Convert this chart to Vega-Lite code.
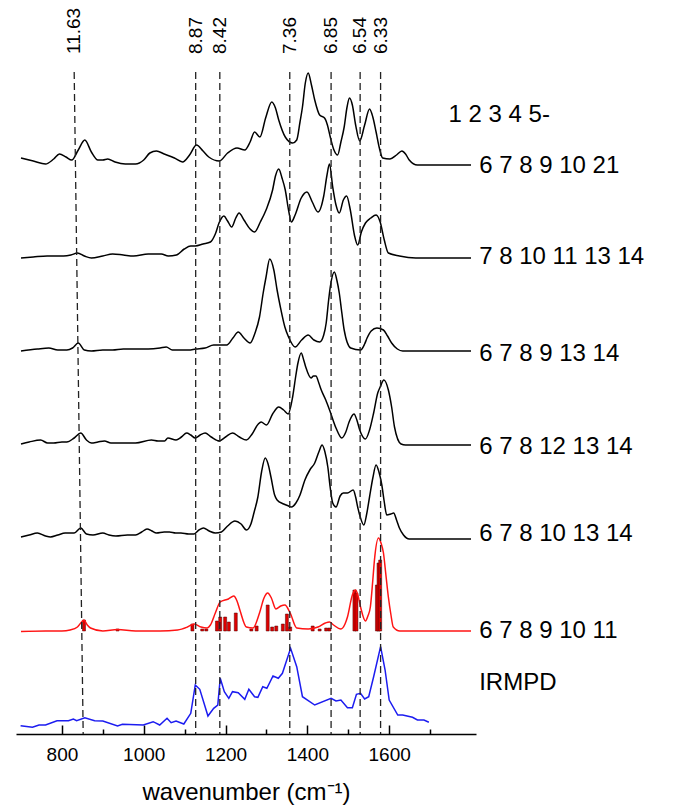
{
  "$schema": "https://vega.github.io/schema/vega-lite/v6.json",
  "width": 460,
  "height": 734,
  "autosize": "none",
  "padding": {"left": 16, "top": 0, "right": 205, "bottom": 76},
  "background": "white",
  "config": {"view": {"stroke": null}, "font": "Liberation Sans"},
  "datasets": {
    "spectra": [
      {"s":"1","wn":700,"v":576},{"s":"1","wn":730,"v":573},{"s":"1","wn":760,"v":570},{"s":"1","wn":780,"v":575},{"s":"1","wn":794,"v":580},{"s":"1","wn":810,"v":577},{"s":"1","wn":824,"v":574},{"s":"1","wn":840,"v":584},{"s":"1","wn":856,"v":594},{"s":"1","wn":872,"v":582},{"s":"1","wn":888,"v":574},{"s":"1","wn":900,"v":574},{"s":"1","wn":912,"v":575},{"s":"1","wn":930,"v":572},{"s":"1","wn":955,"v":570},{"s":"1","wn":980,"v":570},{"s":"1","wn":1000,"v":574},{"s":"1","wn":1015,"v":581},{"s":"1","wn":1031,"v":583},{"s":"1","wn":1050,"v":580},{"s":"1","wn":1075,"v":576},{"s":"1","wn":1095,"v":572},{"s":"1","wn":1112,"v":579},{"s":"1","wn":1129,"v":589},{"s":"1","wn":1145,"v":583},{"s":"1","wn":1159,"v":577},{"s":"1","wn":1185,"v":573},{"s":"1","wn":1205,"v":581},{"s":"1","wn":1228,"v":586},{"s":"1","wn":1247,"v":584},{"s":"1","wn":1260,"v":592},{"s":"1","wn":1271,"v":602},{"s":"1","wn":1284,"v":597},{"s":"1","wn":1298,"v":616},{"s":"1","wn":1313,"v":632},{"s":"1","wn":1322,"v":626},{"s":"1","wn":1330,"v":614},{"s":"1","wn":1346,"v":597},{"s":"1","wn":1364,"v":591},{"s":"1","wn":1374,"v":594},{"s":"1","wn":1382,"v":612},{"s":"1","wn":1388,"v":627},{"s":"1","wn":1395,"v":651},{"s":"1","wn":1402,"v":661},{"s":"1","wn":1410,"v":649},{"s":"1","wn":1418,"v":634},{"s":"1","wn":1430,"v":619},{"s":"1","wn":1442,"v":616},{"s":"1","wn":1449,"v":609},{"s":"1","wn":1456,"v":597},{"s":"1","wn":1465,"v":584},{"s":"1","wn":1474,"v":579},{"s":"1","wn":1482,"v":592},{"s":"1","wn":1490,"v":607},{"s":"1","wn":1497,"v":627},{"s":"1","wn":1503,"v":636},{"s":"1","wn":1510,"v":629},{"s":"1","wn":1518,"v":609},{"s":"1","wn":1528,"v":593},{"s":"1","wn":1540,"v":609},{"s":"1","wn":1552,"v":625},{"s":"1","wn":1560,"v":617},{"s":"1","wn":1568,"v":602},{"s":"1","wn":1576,"v":586},{"s":"1","wn":1584,"v":576},{"s":"1","wn":1602,"v":575},{"s":"1","wn":1618,"v":579},{"s":"1","wn":1631,"v":583},{"s":"1","wn":1640,"v":580},{"s":"1","wn":1649,"v":574},{"s":"1","wn":1669,"v":569},{"s":"1","wn":1800,"v":569},
      {"s":"2","wn":700,"v":476},{"s":"2","wn":730,"v":477},{"s":"2","wn":764,"v":478},{"s":"2","wn":804,"v":478},{"s":"2","wn":822,"v":479},{"s":"2","wn":838,"v":481},{"s":"2","wn":855,"v":478},{"s":"2","wn":872,"v":476},{"s":"2","wn":900,"v":478},{"s":"2","wn":924,"v":480},{"s":"2","wn":950,"v":479},{"s":"2","wn":975,"v":478},{"s":"2","wn":1011,"v":480},{"s":"2","wn":1043,"v":480},{"s":"2","wn":1060,"v":478},{"s":"2","wn":1080,"v":479},{"s":"2","wn":1099,"v":485},{"s":"2","wn":1115,"v":488},{"s":"2","wn":1126,"v":488},{"s":"2","wn":1145,"v":490},{"s":"2","wn":1163,"v":492},{"s":"2","wn":1175,"v":500},{"s":"2","wn":1185,"v":512},{"s":"2","wn":1196,"v":518},{"s":"2","wn":1205,"v":513},{"s":"2","wn":1215,"v":507},{"s":"2","wn":1225,"v":516},{"s":"2","wn":1233,"v":521},{"s":"2","wn":1245,"v":514},{"s":"2","wn":1260,"v":505},{"s":"2","wn":1271,"v":502},{"s":"2","wn":1285,"v":512},{"s":"2","wn":1299,"v":524},{"s":"2","wn":1315,"v":544},{"s":"2","wn":1322,"v":558},{"s":"2","wn":1330,"v":565},{"s":"2","wn":1338,"v":556},{"s":"2","wn":1346,"v":544},{"s":"2","wn":1354,"v":524},{"s":"2","wn":1361,"v":512},{"s":"2","wn":1370,"v":519},{"s":"2","wn":1385,"v":536},{"s":"2","wn":1399,"v":542},{"s":"2","wn":1412,"v":532},{"s":"2","wn":1426,"v":522},{"s":"2","wn":1440,"v":538},{"s":"2","wn":1448,"v":559},{"s":"2","wn":1454,"v":570},{"s":"2","wn":1462,"v":547},{"s":"2","wn":1470,"v":529},{"s":"2","wn":1478,"v":521},{"s":"2","wn":1488,"v":534},{"s":"2","wn":1496,"v":538},{"s":"2","wn":1505,"v":524},{"s":"2","wn":1515,"v":499},{"s":"2","wn":1523,"v":489},{"s":"2","wn":1532,"v":502},{"s":"2","wn":1542,"v":511},{"s":"2","wn":1555,"v":516},{"s":"2","wn":1568,"v":519},{"s":"2","wn":1578,"v":512},{"s":"2","wn":1588,"v":494},{"s":"2","wn":1598,"v":481},{"s":"2","wn":1625,"v":478},{"s":"2","wn":1665,"v":476},{"s":"2","wn":1800,"v":476},
      {"s":"3","wn":700,"v":383},{"s":"3","wn":740,"v":385},{"s":"3","wn":768,"v":386},{"s":"3","wn":790,"v":384},{"s":"3","wn":812,"v":384},{"s":"3","wn":826,"v":386},{"s":"3","wn":840,"v":391},{"s":"3","wn":855,"v":384},{"s":"3","wn":872,"v":383},{"s":"3","wn":900,"v":384},{"s":"3","wn":924,"v":384},{"s":"3","wn":950,"v":385},{"s":"3","wn":972,"v":385},{"s":"3","wn":1011,"v":385},{"s":"3","wn":1040,"v":386},{"s":"3","wn":1055,"v":387},{"s":"3","wn":1070,"v":384},{"s":"3","wn":1087,"v":384},{"s":"3","wn":1110,"v":384},{"s":"3","wn":1127,"v":385},{"s":"3","wn":1150,"v":386},{"s":"3","wn":1171,"v":389},{"s":"3","wn":1203,"v":389},{"s":"3","wn":1218,"v":396},{"s":"3","wn":1231,"v":402},{"s":"3","wn":1245,"v":396},{"s":"3","wn":1260,"v":391},{"s":"3","wn":1272,"v":401},{"s":"3","wn":1283,"v":417},{"s":"3","wn":1292,"v":441},{"s":"3","wn":1299,"v":457},{"s":"3","wn":1308,"v":475},{"s":"3","wn":1318,"v":464},{"s":"3","wn":1326,"v":444},{"s":"3","wn":1334,"v":427},{"s":"3","wn":1345,"v":407},{"s":"3","wn":1354,"v":397},{"s":"3","wn":1370,"v":387},{"s":"3","wn":1386,"v":394},{"s":"3","wn":1402,"v":399},{"s":"3","wn":1416,"v":394},{"s":"3","wn":1430,"v":392},{"s":"3","wn":1440,"v":399},{"s":"3","wn":1446,"v":411},{"s":"3","wn":1452,"v":434},{"s":"3","wn":1456,"v":447},{"s":"3","wn":1466,"v":462},{"s":"3","wn":1472,"v":454},{"s":"3","wn":1478,"v":441},{"s":"3","wn":1484,"v":422},{"s":"3","wn":1490,"v":404},{"s":"3","wn":1506,"v":386},{"s":"3","wn":1530,"v":384},{"s":"3","wn":1540,"v":390},{"s":"3","wn":1546,"v":396},{"s":"3","wn":1556,"v":403},{"s":"3","wn":1570,"v":406},{"s":"3","wn":1586,"v":404},{"s":"3","wn":1596,"v":398},{"s":"3","wn":1606,"v":391},{"s":"3","wn":1620,"v":385},{"s":"3","wn":1633,"v":383},{"s":"3","wn":1800,"v":383},
      {"s":"4","wn":700,"v":290},{"s":"4","wn":720,"v":292},{"s":"4","wn":748,"v":294},{"s":"4","wn":765,"v":291},{"s":"4","wn":780,"v":291},{"s":"4","wn":800,"v":292},{"s":"4","wn":812,"v":292},{"s":"4","wn":830,"v":296},{"s":"4","wn":846,"v":301},{"s":"4","wn":860,"v":294},{"s":"4","wn":872,"v":291},{"s":"4","wn":888,"v":292},{"s":"4","wn":904,"v":293},{"s":"4","wn":920,"v":291},{"s":"4","wn":940,"v":291},{"s":"4","wn":980,"v":291},{"s":"4","wn":1019,"v":294},{"s":"4","wn":1035,"v":293},{"s":"4","wn":1051,"v":293},{"s":"4","wn":1059,"v":296},{"s":"4","wn":1079,"v":294},{"s":"4","wn":1092,"v":297},{"s":"4","wn":1105,"v":301},{"s":"4","wn":1115,"v":299},{"s":"4","wn":1126,"v":296},{"s":"4","wn":1138,"v":299},{"s":"4","wn":1150,"v":301},{"s":"4","wn":1165,"v":297},{"s":"4","wn":1185,"v":293},{"s":"4","wn":1200,"v":297},{"s":"4","wn":1217,"v":301},{"s":"4","wn":1234,"v":297},{"s":"4","wn":1251,"v":294},{"s":"4","wn":1265,"v":300},{"s":"4","wn":1280,"v":310},{"s":"4","wn":1287,"v":312},{"s":"4","wn":1300,"v":309},{"s":"4","wn":1315,"v":320},{"s":"4","wn":1330,"v":327},{"s":"4","wn":1342,"v":324},{"s":"4","wn":1353,"v":320},{"s":"4","wn":1364,"v":337},{"s":"4","wn":1372,"v":359},{"s":"4","wn":1377,"v":371},{"s":"4","wn":1385,"v":381},{"s":"4","wn":1391,"v":374},{"s":"4","wn":1396,"v":367},{"s":"4","wn":1409,"v":356},{"s":"4","wn":1415,"v":358},{"s":"4","wn":1421,"v":358},{"s":"4","wn":1428,"v":351},{"s":"4","wn":1434,"v":344},{"s":"4","wn":1445,"v":334},{"s":"4","wn":1456,"v":322},{"s":"4","wn":1470,"v":306},{"s":"4","wn":1484,"v":296},{"s":"4","wn":1494,"v":302},{"s":"4","wn":1502,"v":312},{"s":"4","wn":1514,"v":320},{"s":"4","wn":1521,"v":314},{"s":"4","wn":1528,"v":304},{"s":"4","wn":1542,"v":295},{"s":"4","wn":1552,"v":304},{"s":"4","wn":1562,"v":321},{"s":"4","wn":1572,"v":341},{"s":"4","wn":1578,"v":347},{"s":"4","wn":1587,"v":354},{"s":"4","wn":1598,"v":344},{"s":"4","wn":1606,"v":327},{"s":"4","wn":1613,"v":307},{"s":"4","wn":1629,"v":290},{"s":"4","wn":1640,"v":289},{"s":"4","wn":1800,"v":289},
      {"s":"5","wn":700,"v":197},{"s":"5","wn":720,"v":199},{"s":"5","wn":740,"v":201},{"s":"5","wn":760,"v":198},{"s":"5","wn":772,"v":197},{"s":"5","wn":790,"v":199},{"s":"5","wn":808,"v":201},{"s":"5","wn":830,"v":201},{"s":"5","wn":846,"v":206},{"s":"5","wn":860,"v":200},{"s":"5","wn":876,"v":199},{"s":"5","wn":900,"v":201},{"s":"5","wn":915,"v":199},{"s":"5","wn":932,"v":198},{"s":"5","wn":960,"v":199},{"s":"5","wn":980,"v":199},{"s":"5","wn":995,"v":202},{"s":"5","wn":1008,"v":205},{"s":"5","wn":1020,"v":203},{"s":"5","wn":1031,"v":201},{"s":"5","wn":1050,"v":202},{"s":"5","wn":1063,"v":202},{"s":"5","wn":1078,"v":201},{"s":"5","wn":1091,"v":201},{"s":"5","wn":1110,"v":200},{"s":"5","wn":1123,"v":200},{"s":"5","wn":1135,"v":204},{"s":"5","wn":1146,"v":206},{"s":"5","wn":1160,"v":203},{"s":"5","wn":1175,"v":201},{"s":"5","wn":1190,"v":202},{"s":"5","wn":1205,"v":208},{"s":"5","wn":1223,"v":213},{"s":"5","wn":1238,"v":210},{"s":"5","wn":1251,"v":204},{"s":"5","wn":1262,"v":210},{"s":"5","wn":1270,"v":222},{"s":"5","wn":1279,"v":237},{"s":"5","wn":1288,"v":262},{"s":"5","wn":1297,"v":276},{"s":"5","wn":1304,"v":270},{"s":"5","wn":1311,"v":257},{"s":"5","wn":1320,"v":239},{"s":"5","wn":1326,"v":234},{"s":"5","wn":1342,"v":230},{"s":"5","wn":1354,"v":228},{"s":"5","wn":1361,"v":227},{"s":"5","wn":1372,"v":231},{"s":"5","wn":1382,"v":239},{"s":"5","wn":1394,"v":254},{"s":"5","wn":1406,"v":264},{"s":"5","wn":1418,"v":271},{"s":"5","wn":1428,"v":282},{"s":"5","wn":1436,"v":289},{"s":"5","wn":1443,"v":282},{"s":"5","wn":1450,"v":267},{"s":"5","wn":1456,"v":246},{"s":"5","wn":1462,"v":231},{"s":"5","wn":1470,"v":227},{"s":"5","wn":1480,"v":238},{"s":"5","wn":1488,"v":241},{"s":"5","wn":1498,"v":241},{"s":"5","wn":1512,"v":244},{"s":"5","wn":1518,"v":237},{"s":"5","wn":1523,"v":227},{"s":"5","wn":1530,"v":216},{"s":"5","wn":1538,"v":209},{"s":"5","wn":1545,"v":220},{"s":"5","wn":1552,"v":237},{"s":"5","wn":1560,"v":256},{"s":"5","wn":1568,"v":269},{"s":"5","wn":1575,"v":262},{"s":"5","wn":1582,"v":249},{"s":"5","wn":1588,"v":232},{"s":"5","wn":1594,"v":219},{"s":"5","wn":1604,"v":220},{"s":"5","wn":1611,"v":221},{"s":"5","wn":1618,"v":214},{"s":"5","wn":1625,"v":206},{"s":"5","wn":1635,"v":199},{"s":"5","wn":1649,"v":195},{"s":"5","wn":1800,"v":195},
      {"s":"calc","wn":700,"v":102.5},{"s":"calc","wn":760,"v":103},{"s":"calc","wn":800,"v":103},{"s":"calc","wn":820,"v":104},{"s":"calc","wn":838,"v":107},{"s":"calc","wn":848,"v":112},{"s":"calc","wn":854,"v":114},{"s":"calc","wn":862,"v":109},{"s":"calc","wn":870,"v":106},{"s":"calc","wn":900,"v":103},{"s":"calc","wn":936,"v":104.5},{"s":"calc","wn":980,"v":103},{"s":"calc","wn":1040,"v":103},{"s":"calc","wn":1083,"v":104},{"s":"calc","wn":1107,"v":107},{"s":"calc","wn":1123,"v":110},{"s":"calc","wn":1140,"v":107},{"s":"calc","wn":1155,"v":106},{"s":"calc","wn":1163,"v":109},{"s":"calc","wn":1175,"v":121},{"s":"calc","wn":1187,"v":132},{"s":"calc","wn":1207,"v":135},{"s":"calc","wn":1220,"v":138},{"s":"calc","wn":1228,"v":133},{"s":"calc","wn":1235,"v":124},{"s":"calc","wn":1251,"v":107},{"s":"calc","wn":1267,"v":106},{"s":"calc","wn":1283,"v":121},{"s":"calc","wn":1294,"v":136},{"s":"calc","wn":1303,"v":141},{"s":"calc","wn":1312,"v":136},{"s":"calc","wn":1323,"v":125},{"s":"calc","wn":1335,"v":128},{"s":"calc","wn":1345,"v":129},{"s":"calc","wn":1358,"v":121},{"s":"calc","wn":1374,"v":106},{"s":"calc","wn":1402,"v":105},{"s":"calc","wn":1426,"v":107},{"s":"calc","wn":1444,"v":111},{"s":"calc","wn":1454,"v":112},{"s":"calc","wn":1464,"v":109},{"s":"calc","wn":1482,"v":105},{"s":"calc","wn":1492,"v":110},{"s":"calc","wn":1498,"v":117},{"s":"calc","wn":1510,"v":139},{"s":"calc","wn":1518,"v":144},{"s":"calc","wn":1524,"v":138},{"s":"calc","wn":1530,"v":127},{"s":"calc","wn":1542,"v":113},{"s":"calc","wn":1548,"v":118},{"s":"calc","wn":1554,"v":127},{"s":"calc","wn":1560,"v":154},{"s":"calc","wn":1564,"v":174},{"s":"calc","wn":1574,"v":196},{"s":"calc","wn":1580,"v":191},{"s":"calc","wn":1586,"v":181},{"s":"calc","wn":1592,"v":159},{"s":"calc","wn":1598,"v":137},{"s":"calc","wn":1604,"v":120},{"s":"calc","wn":1610,"v":107},{"s":"calc","wn":1626,"v":103},{"s":"calc","wn":1800,"v":103}
    ],
    "irmpd": [
      {"wn":699,"v":8.3},{"wn":728,"v":6.7},{"wn":744,"v":9},{"wn":760,"v":9},{"wn":788,"v":13.3},{"wn":816,"v":13.3},{"wn":828,"v":15},{"wn":836,"v":13.3},{"wn":856,"v":16.3},{"wn":880,"v":13.3},{"wn":900,"v":13},{"wn":936,"v":8},{"wn":948,"v":9.7},{"wn":999,"v":9},{"wn":1023,"v":12.3},{"wn":1039,"v":9},{"wn":1057,"v":15.7},{"wn":1067,"v":11.3},{"wn":1079,"v":13},{"wn":1098,"v":10},{"wn":1115,"v":20.7},{"wn":1126,"v":49},{"wn":1137,"v":44.7},{"wn":1157,"v":18},{"wn":1171,"v":25.7},{"wn":1181,"v":29},{"wn":1187,"v":55.7},{"wn":1197,"v":42.3},{"wn":1208,"v":35.7},{"wn":1217,"v":42.3},{"wn":1231,"v":41.3},{"wn":1247,"v":34.7},{"wn":1257,"v":44.7},{"wn":1271,"v":37.3},{"wn":1279,"v":36.7},{"wn":1291,"v":47.3},{"wn":1301,"v":45.7},{"wn":1316,"v":58},{"wn":1329,"v":55.7},{"wn":1339,"v":60.7},{"wn":1359,"v":85.7},{"wn":1374,"v":67.3},{"wn":1388,"v":37.3},{"wn":1418,"v":29},{"wn":1458,"v":35.7},{"wn":1470,"v":33},{"wn":1482,"v":34},{"wn":1498,"v":26.3},{"wn":1510,"v":26.3},{"wn":1520,"v":39.7},{"wn":1530,"v":40.7},{"wn":1540,"v":35},{"wn":1550,"v":37.3},{"wn":1562,"v":57.3},{"wn":1579,"v":87.3},{"wn":1590,"v":64},{"wn":1600,"v":34},{"wn":1621,"v":19},{"wn":1633,"v":19},{"wn":1657,"v":16.7},{"wn":1669,"v":14},{"wn":1685,"v":14},{"wn":1697,"v":11.7}
    ],
    "sticks": [
      {"wn":854,"v":114},{"wn":936,"v":105},{"wn":1119,"v":110},{"wn":1143,"v":105},{"wn":1153,"v":105},{"wn":1179,"v":113},{"wn":1187,"v":117},{"wn":1199,"v":117},{"wn":1208,"v":112},{"wn":1225,"v":121},{"wn":1263,"v":105},{"wn":1276,"v":108},{"wn":1303,"v":129},{"wn":1314,"v":107},{"wn":1324,"v":108},{"wn":1340,"v":110},{"wn":1350,"v":120},{"wn":1358,"v":107},{"wn":1413,"v":108},{"wn":1430,"v":105},{"wn":1446,"v":106},{"wn":1454,"v":106},{"wn":1515,"v":144},{"wn":1520,"v":141},{"wn":1570,"v":149},{"wn":1574,"v":171},{"wn":1578,"v":174}
    ],
    "marks": [
      {"label":"11.63","wn":830,"wn2":852},{"label":"8.87","wn":1127,"wn2":1127},{"label":"8.42","wn":1186,"wn2":1186},{"label":"7.36","wn":1357,"wn2":1357},{"label":"6.85","wn":1458,"wn2":1458},{"label":"6.54","wn":1529,"wn2":1529},{"label":"6.33","wn":1579,"wn2":1579}
    ],
    "labels": [
      {"label":"6 7 8 9 10 21","v":568},{"label":"7 8 10 11 13 14","v":477},{"label":"6 7 8 9 13 14","v":380},{"label":"6 7 8 12 13 14","v":287},{"label":"6 7 8 10 13 14","v":200},{"label":"6 7 8 9 10 11","v":103},{"label":"IRMPD","v":51}
    ]
  },
  "layer": [
    {
      "data": {"name": "spectra"},
      "transform": [{"filter": "datum.s !== 'calc'"}],
      "mark": {"type": "line", "interpolate": "monotone", "color": "#000000", "strokeWidth": 1.5, "clip": false},
      "encoding": {
        "x": {"field": "wn", "type": "quantitative", "scale": {"domain": [700, 1800], "nice": false, "zero": false},
          "axis": {"title": "wavenumber (cm⁻¹)", "values": [800,900,1000,1100,1200,1300,1400,1500,1600,1700],
            "format": "d", "ticks": true,
            "labelExpr": "datum.value % 200 == 0 ? datum.label : ''",
            "tickSize": {"condition": {"test": "datum.value % 200 == 0", "value": -9}, "value": -5},
            "tickColor": "#000000", "tickWidth": 1.5, "domainColor": "#000000", "domainWidth": 1.5,
            "grid": false, "labelFontSize": 19, "labelColor": "#000000", "labelFont": "Liberation Sans",
            "labelPadding": 20, "titleFontSize": 24, "titleFontWeight": "normal", "titleColor": "#000000",
            "titleFont": "Liberation Sans", "titlePadding": 12, "labelFlush": false, "labelOverlap": false}},
        "y": {"field": "v", "type": "quantitative", "scale": {"domain": [0, 734], "nice": false}, "axis": null},
        "detail": {"field": "s"}
      }
    },
    {
      "data": {"name": "sticks"},
      "mark": {"type": "bar", "size": 3, "color": "#e00000", "stroke": "#500000", "strokeWidth": 0.5},
      "encoding": {
        "x": {"field": "wn", "type": "quantitative"},
        "y": {"field": "v", "type": "quantitative"},
        "y2": {"datum": 103}
      }
    },
    {
      "data": {"name": "spectra"},
      "transform": [{"filter": "datum.s === 'calc'"}],
      "mark": {"type": "line", "interpolate": "monotone", "color": "#ff1414", "strokeWidth": 1.5},
      "encoding": {
        "x": {"field": "wn", "type": "quantitative"},
        "y": {"field": "v", "type": "quantitative"}
      }
    },
    {
      "data": {"name": "irmpd"},
      "mark": {"type": "line", "interpolate": "linear", "color": "#1c1cf0", "strokeWidth": 1.5},
      "encoding": {
        "x": {"field": "wn", "type": "quantitative"},
        "y": {"field": "v", "type": "quantitative"}
      }
    },
    {
      "data": {"name": "marks"},
      "mark": {"type": "rule", "strokeDash": [7, 4], "color": "#222222", "strokeWidth": 1.3},
      "encoding": {
        "x": {"field": "wn", "type": "quantitative"},
        "x2": {"field": "wn2"},
        "y": {"datum": 662},
        "y2": {"datum": 0}
      }
    },
    {
      "data": {"name": "marks"},
      "mark": {"type": "text", "angle": 270, "align": "left", "baseline": "middle", "fontSize": 19, "font": "Liberation Sans", "color": "#000000"},
      "encoding": {
        "x": {"field": "wn", "type": "quantitative"},
        "y": {"datum": 680},
        "text": {"field": "label"}
      }
    },
    {
      "data": {"name": "labels"},
      "mark": {"type": "text", "align": "left", "baseline": "middle", "fontSize": 24, "font": "Liberation Sans", "color": "#000000", "clip": false},
      "encoding": {
        "x": {"datum": 1820},
        "y": {"field": "v", "type": "quantitative"},
        "text": {"field": "label"}
      }
    },
    {
      "data": {"values": [{"label": "1 2 3 4 5-", "v": 619}]},
      "mark": {"type": "text", "align": "left", "baseline": "middle", "fontSize": 24, "font": "Liberation Sans", "color": "#000000"},
      "encoding": {
        "x": {"datum": 1745},
        "y": {"field": "v", "type": "quantitative"},
        "text": {"field": "label"}
      }
    }
  ]
}
